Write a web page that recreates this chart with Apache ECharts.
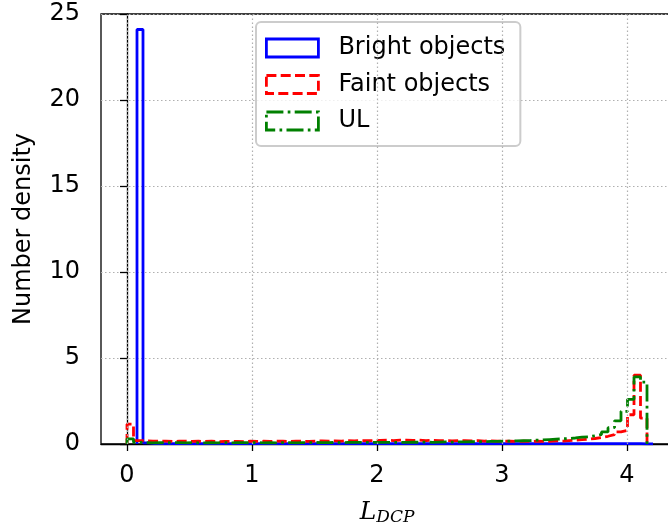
<!DOCTYPE html>
<html>
<head>
<meta charset="utf-8">
<script src="https://cdn.jsdelivr.net/npm/echarts@6/dist/echarts.min.js"></script>
<style>
  html, body { margin: 0; padding: 0; background: #fff; }
  #chart { width: 668px; height: 525px; }
</style>
</head>
<body>
<div id="chart"></div>
<script>
// histogram bins (step outlines)
var binStart = 0, binWidth = 0.052;          // faint objects + UL
var brightStart = 0.08, brightWidth = 0.048;  // bright objects

var faintVals = [
  1.15, 0.2, 0.18, 0.17, 0.16, 0.17, 0.15, 0.16, 0.17, 0.15, 0.16,
  0.15, 0.16, 0.14, 0.15, 0.16, 0.15, 0.14, 0.16, 0.15, 0.16,
  0.15, 0.17, 0.16, 0.15, 0.17, 0.16, 0.15, 0.17, 0.18, 0.17,
  0.18, 0.17, 0.19, 0.18, 0.2, 0.19, 0.2, 0.21, 0.22, 0.2,
  0.22, 0.23, 0.21, 0.22, 0.2, 0.21, 0.19, 0.2, 0.18, 0.2,
  0.19, 0.18, 0.2, 0.17, 0.18, 0.16, 0.17, 0.16, 0.15, 0.16,
  0.15, 0.16, 0.15,
  0.15, 0.18, 0.17, 0.2, 0.22, 0.25, 0.28, 0.32, 0.38, 0.45, 0.55, 0.7, 0.8, 1.7, 4.0, 1.5
];
var ulVals = [
  0.3, 0.1, 0.08, 0.07, 0.08, 0.07, 0.08, 0.08, 0.07, 0.08, 0.07,
  0.07, 0.08, 0.07, 0.08, 0.07, 0.08, 0.08, 0.07, 0.08, 0.07,
  0.08, 0.07, 0.08, 0.08, 0.07, 0.08, 0.08, 0.09, 0.08, 0.08,
  0.09, 0.08, 0.09, 0.09, 0.1, 0.09, 0.1, 0.1, 0.09, 0.1,
  0.1, 0.1, 0.11, 0.1, 0.11, 0.1, 0.11, 0.12, 0.11, 0.12,
  0.12, 0.13, 0.13, 0.14, 0.15, 0.15, 0.16, 0.17, 0.18, 0.19,
  0.2, 0.22, 0.24,
  0.26, 0.28, 0.3, 0.32, 0.35, 0.4, 0.42, 0.48, 0.55, 0.7, 0.95, 1.35, 1.9, 2.6, 3.9, 3.6
];
var brightVals = [
  24.1, 0.06, 0.03, 0.02, 0.02, 0.02, 0.02, 0.02, 0.02, 0.02, 0.02, 0.02, 0.02, 0.02, 0.02, 0.02, 0.02,
  0.02, 0.02, 0.02, 0.02, 0.02, 0.02, 0.02, 0.02, 0.02, 0.02, 0.02, 0.02, 0.02, 0.02, 0.02, 0.02,
  0.02, 0.02, 0.02, 0.02, 0.02, 0.02, 0.02, 0.02, 0.02, 0.02, 0.02, 0.02, 0.02, 0.02, 0.02, 0.02,
  0.02, 0.02, 0.02, 0.02, 0.02, 0.02, 0.02, 0.02, 0.02, 0.02, 0.02, 0.02, 0.02, 0.02, 0.02, 0.02,
  0.02, 0.02, 0.02, 0.02, 0.02, 0.02, 0.02, 0.02, 0.02, 0.02, 0.02, 0.02, 0.02, 0.02, 0.02, 0.02,
  0.02, 0.02, 0.02, 0.01, 0.01
];
var xTicks = [0, 1, 2, 3, 4];
var seriesNames = ['Bright objects', 'Faint objects', 'UL'];

// outline of a step histogram, like histtype='step'
function stepPoints(start, width, vals) {
  var pts = [[start, 0]];
  for (var i = 0; i < vals.length; i++) {
    pts.push([start + i * width, vals[i]]);
    pts.push([start + (i + 1) * width, vals[i]]);
  }
  pts.push([start + vals.length * width, 0]);
  return pts;
}

var font = 'DejaVu Sans';
var greenDash = [17, 4.3, 2.7, 4.3];
var redDash = [10, 4.3];
var lw = 2.8;
var gridStyle = { color: '#b0b0b0', width: 1.2, type: [1.5, 2.5] };

var myChart = echarts.init(document.getElementById('chart'));
var option = {
  animation: false,
  grid: {
    left: 101, right: -5, top: 14, bottom: 81,
    outerBoundsMode: 'none', containLabel: false,
    show: true, borderColor: '#000', borderWidth: 1.3, backgroundColor: 'transparent'
  },
  xAxis: {
    type: 'value',
    min: -0.208, max: 4.368,
    name: '{l|L}{s|DCP}',
    nameLocation: 'middle',
    nameGap: 55,
    nameTextStyle: {
      rich: {
        l: { fontFamily: 'DejaVu Serif', fontStyle: 'italic', fontSize: 25, color: '#000' },
        s: { fontFamily: 'DejaVu Serif', fontStyle: 'italic', fontSize: 17, color: '#000', padding: [10, 0, 0, 0] }
      }
    },
    axisLine: { lineStyle: { color: '#000', width: 1.3 } },
    axisTick: { customValues: xTicks, length: 7, lineStyle: { color: '#000', width: 1.3 } },
    axisLabel: { customValues: xTicks, fontFamily: font, fontSize: 24, color: '#000', margin: 20 },
    splitLine: { show: false }
  },
  yAxis: {
    type: 'value',
    min: 0, max: 25, interval: 5,
    name: 'Number density',
    nameLocation: 'middle',
    nameGap: 65,
    nameTextStyle: { fontFamily: font, fontSize: 24, color: '#000' },
    axisLine: { show: true, lineStyle: { color: '#000', width: 1.3 } },
    axisTick: { show: true, length: 7, lineStyle: { color: '#000', width: 1.3 } },
    axisLabel: { fontFamily: font, fontSize: 24, color: '#000', margin: 21 },
    splitLine: { show: true, lineStyle: gridStyle }
  },
  legend: {
    orient: 'vertical',
    left: 256, top: 22,
    padding: [14, 15, 13, 9],
    itemWidth: 52, itemHeight: 18, itemGap: 12.5,
    backgroundColor: 'rgba(255,255,255,0.8)',
    borderColor: '#cccccc', borderWidth: 2, borderRadius: 5,
    symbolKeepAspect: false,
    textStyle: { fontFamily: font, fontSize: 24, color: '#000', lineHeight: 24, padding: [0, 0, 0, 15] },
    data: [
      { name: seriesNames[0], icon: 'rect',
        itemStyle: { color: 'rgba(0,0,0,0)', borderColor: '#0000ff', borderWidth: lw, borderType: 'solid' } },
      { name: seriesNames[1], icon: 'rect',
        itemStyle: { color: 'rgba(0,0,0,0)', borderColor: '#ff0000', borderWidth: lw, borderType: redDash } },
      { name: seriesNames[2], icon: 'rect',
        itemStyle: { color: 'rgba(0,0,0,0)', borderColor: '#008000', borderWidth: lw, borderType: greenDash } }
    ]
  },
  series: [
    {
      name: 'xgrid', type: 'line', data: [], z: 1, silent: true,
      markLine: {
        silent: true, symbol: 'none', label: { show: false },
        lineStyle: gridStyle,
        data: xTicks.map(function (v) { return { xAxis: v }; })
      }
    },
    {
      name: seriesNames[0], type: 'line', z: 2,
      data: stepPoints(brightStart, brightWidth, brightVals),
      symbol: 'none', color: '#0000ff',
      lineStyle: { color: '#0000ff', width: lw }
    },
    {
      name: seriesNames[1], type: 'line', z: 3,
      data: stepPoints(binStart, binWidth, faintVals),
      symbol: 'none', color: '#ff0000',
      lineStyle: { color: '#ff0000', width: lw, type: redDash }
    },
    {
      name: seriesNames[2], type: 'line', z: 4,
      data: stepPoints(binStart, binWidth, ulVals),
      symbol: 'none', color: '#008000',
      lineStyle: { color: '#008000', width: lw, type: greenDash }
    }
  ]
};
myChart.setOption(option);
</script>
</body>
</html>
